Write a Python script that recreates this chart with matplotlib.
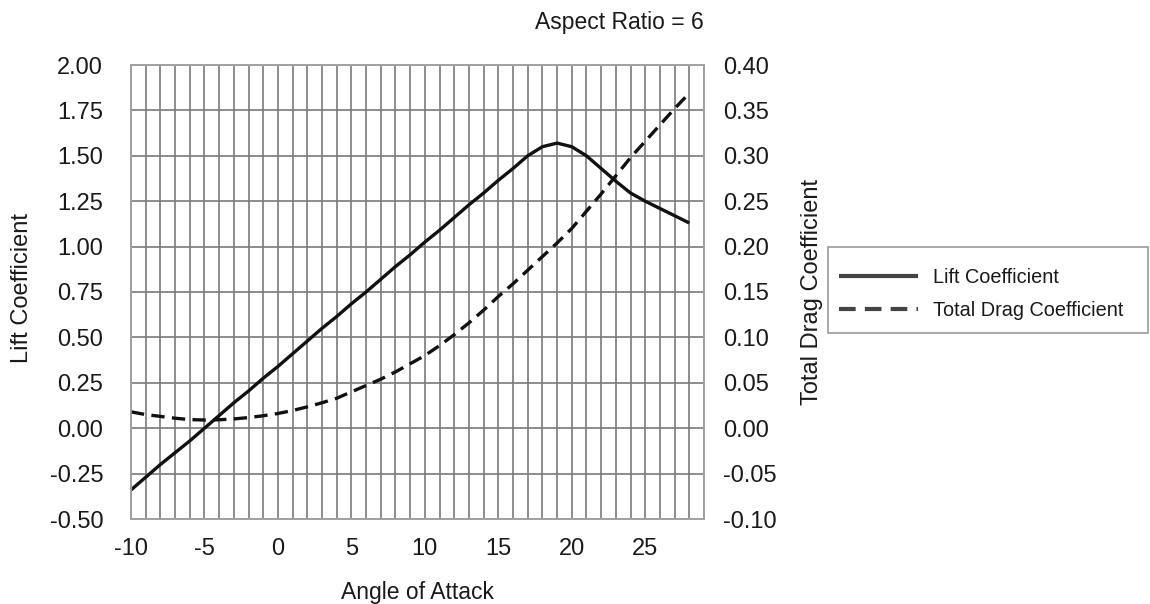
import matplotlib
matplotlib.use("Agg")
import matplotlib.pyplot as plt
from matplotlib.patches import Rectangle
import numpy as np

plt.rcParams['font.family'] = ['Liberation Sans', 'DejaVu Sans']

angle = list(range(-10, 29))
lift = [-0.34, -0.27, -0.20, -0.135, -0.07, 0.00, 0.07, 0.14, 0.205, 0.275,
        0.34, 0.41, 0.48, 0.55, 0.615, 0.685, 0.75, 0.82, 0.89, 0.955,
        1.025, 1.09, 1.16, 1.23, 1.295, 1.365, 1.43, 1.50, 1.55, 1.57,
        1.55, 1.50, 1.43, 1.36, 1.295, 1.25, 1.21, 1.17, 1.13]
drag = [0.018, 0.015, 0.013, 0.011, 0.0095, 0.009, 0.0093, 0.0102, 0.0117, 0.0137,
        0.0162, 0.0195, 0.0235, 0.028, 0.033, 0.040, 0.047, 0.054, 0.062, 0.071,
        0.080, 0.091, 0.103, 0.116, 0.130, 0.145, 0.159, 0.174, 0.189, 0.204,
        0.220, 0.239, 0.258, 0.278, 0.298, 0.316, 0.334, 0.352, 0.369]

x_ticks = [-10, -5, 0, 5, 10, 15, 20, 25]
left_ticks = [-0.5, -0.25, 0.0, 0.25, 0.5, 0.75, 1.0, 1.25, 1.5, 1.75, 2.0]
right_ticks = [-0.1, -0.05, 0.0, 0.05, 0.1, 0.15, 0.2, 0.25, 0.3, 0.35, 0.4]

W, H = 1150, 604
fig = plt.figure(figsize=(W / 100, H / 100), dpi=100)
L, R, T, B = 131, 704, 65, 519
ax = fig.add_axes([L / W, 1 - B / H, (R - L) / W, (B - T) / H])
ax2 = ax.twinx()

grid_c = '#7a7a7a'
ax.set_xlim(-10, 29)
ax.set_ylim(-0.5, 2.0)
ax2.set_ylim(-0.1, 0.4)
ax.set_xticks(x_ticks)
ax.set_xticks(np.arange(-10, 30, 1), minor=True)
ax.set_yticks(left_ticks)
ax2.set_yticks(right_ticks)
ax.set_xticklabels([str(v) for v in x_ticks])
ax.set_yticklabels([f"{v:.2f}" for v in left_ticks])
ax2.set_yticklabels([f"{v:.2f}" for v in right_ticks])

ax.grid(True, which='both', axis='x', color=grid_c, linewidth=1.2)
ax.grid(True, which='major', axis='y', color=grid_c, linewidth=1.2)
ax.set_axisbelow(True)

for a in (ax, ax2):
    for s in a.spines.values():
        s.set_color('#a0a0a0')
        s.set_linewidth(1.2)
fs = 17
ax.tick_params(which='both', length=0, labelsize=fs, colors='#1a1a1a')
ax.tick_params(axis='y', pad=20)
ax.tick_params(axis='x', pad=14)
ax2.tick_params(length=0, labelsize=fs, colors='#1a1a1a', pad=14)

l1, = ax.plot(angle, lift, color='#111111', linewidth=2.4, solid_capstyle='butt',
              label='Lift Coefficient')
l2, = ax2.plot(angle, drag, color='#111111', linewidth=2.4, dashes=(4, 2.2),
               label='Total Drag Coefficient')

ax.set_xlabel('Angle of Attack', fontsize=16.5, color='#1a1a1a', labelpad=15)
fig.text(22 / W, 1 - 288 / H, 'Lift Coefficient', rotation=90, fontsize=fs,
         color='#1a1a1a', ha='center', va='center')
fig.text(812 / W, 1 - 292 / H, 'Total Drag Coefficient', rotation=90, fontsize=fs,
         color='#1a1a1a', ha='center', va='center')
fig.text(R / W, 1 - 22 / H, 'Aspect Ratio = 6', fontsize=16.5, color='#1a1a1a',
         ha='right', va='center')

# legend frame
fx0, fy0, fx1, fy1 = 828, 247, 1148, 333
fig.patches.append(Rectangle((fx0 / W, 1 - fy1 / H), (fx1 - fx0) / W, (fy1 - fy0) / H,
                             transform=fig.transFigure, fill=False,
                             edgecolor='#9a9a9a', linewidth=1.2))
leg = fig.legend(handles=[l1, l2], loc='upper left',
                 bbox_to_anchor=(839 / W, 1 - 268 / H), fontsize=14.3,
                 frameon=False, handlelength=4.0,
                 handletextpad=0.75, borderpad=0, labelspacing=0.72,
                 borderaxespad=0)
for t in leg.get_texts():
    t.set_color('#1a1a1a')
for h in leg.legend_handles:
    h.set_color('#444444')
    h.set_linewidth(3.0)

fig.savefig('out.png', dpi=100)
